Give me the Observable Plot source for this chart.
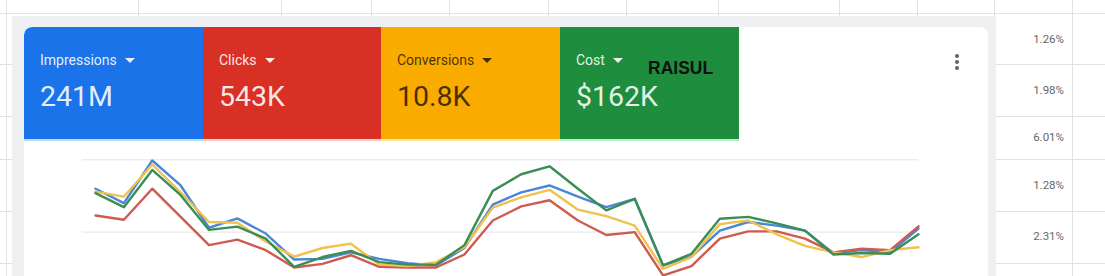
<!DOCTYPE html>
<html><head><meta charset="utf-8">
<script src="https://cdn.jsdelivr.net/npm/d3@7"></script>
<script src="https://cdn.jsdelivr.net/npm/@observablehq/plot@0.6"></script>
<style>
html,body{margin:0;padding:0;width:1105px;height:276px;overflow:hidden;background:#fff;font-family:Roboto,"Noto Sans",Arial,sans-serif;}
#root{position:relative;width:1105px;height:276px;overflow:hidden;}
.vl{position:absolute;width:1px;background:#e0e2e2;}
.hl{position:absolute;height:1px;background:#e0e2e2;}
.pct{position:absolute;right:41px;font-size:11.5px;line-height:1;color:#666;}
#frame{position:absolute;left:12px;top:16px;width:984px;height:280px;background:#eef0f1;}
#card{position:absolute;left:24px;top:27px;width:964px;height:270px;background:#fff;border-radius:8px 8px 0 0;overflow:hidden;}
.tile{position:absolute;top:0;height:112px;}
.tile .lab{position:absolute;left:16px;top:26.2px;font-size:14px;line-height:1;white-space:nowrap;}
.tile .val{position:absolute;left:16px;top:56.4px;font-size:28.5px;line-height:1;white-space:nowrap;}
.tri{display:inline-block;width:0;height:0;border-left:5px solid transparent;border-right:5px solid transparent;border-top:5px solid currentColor;vertical-align:2px;margin-left:8px;}
.tint{position:absolute;left:0;right:0;bottom:-2px;height:2px;}
#raisul{position:absolute;left:88px;top:32.8px;font-family:"Liberation Sans",Arial,sans-serif;font-weight:bold;font-size:17.5px;line-height:1;color:#111;}
.dot{position:absolute;left:931px;width:4px;height:4px;border-radius:50%;background:#5f6368;}
#chart{position:absolute;left:0;top:113px;}
</style></head>
<body><div id="root"></div>
<script>
// ---- data ----
const metrics = ["Impressions", "Clicks", "Conversions", "Cost"];
const totals = ["241M", "543K", "10.8K", "$162K"];
const days = d3.range(1, 31);
const impressions = [1.60,1.40,1.99,1.645,1.06,1.19,0.98,0.62,0.63,0.72,0.63,0.57,0.54,0.78,1.38,1.55,1.645,1.49,1.345,1.46,0.54,0.66,1.02,1.14,1.09,1.02,0.71,0.75,0.72,1.05];
const clicks = [1.23,1.17,1.60,1.21,0.82,0.895,0.75,0.51,0.56,0.68,0.52,0.51,0.51,0.69,1.16,1.355,1.44,1.16,0.96,1.00,0.40,0.53,0.91,1.01,1.01,0.91,0.72,0.77,0.75,1.08];
const conversions = [1.56,1.49,1.935,1.55,1.14,1.13,0.87,0.66,0.78,0.84,0.55,0.53,0.585,0.79,1.34,1.48,1.585,1.31,1.22,1.09,0.49,0.655,1.11,1.16,0.97,0.81,0.72,0.655,0.75,0.79];
const cost = [1.54,1.345,1.86,1.51,1.03,1.075,0.91,0.52,0.655,0.74,0.585,0.55,0.55,0.82,1.57,1.80,1.91,1.60,1.30,1.46,0.54,0.70,1.185,1.21,1.12,1.02,0.69,0.71,0.70,0.97];
const gridValues = [1, 2];
const sheetValues = ["1.26%", "1.98%", "6.01%", "1.28%", "2.31%"];
const watermark = "RAISUL";

// ---- styles ----
const tileColors = ["#1a73e8", "#d93025", "#f9ab00", "#1e8e3e"];
const tintColors = ["#b6dcff", "#ffcfc7", "#ffe7a6", "#b9efc9"];
const textColors = ["rgba(255,255,255,0.9)", "rgba(255,255,255,0.9)", "rgba(0,0,0,0.72)", "rgba(255,255,255,0.9)"];
const lineColors = ["#4c86d6", "#cf5a4f", "#f0c24c", "#3a8d55"];

const root = document.getElementById("root");
function el(tag, cls, css, parent) {
  const e = document.createElement(tag);
  if (cls) e.className = cls;
  Object.assign(e.style, css || {});
  (parent || root).appendChild(e);
  return e;
}
// spreadsheet background
const vx = [6, 138, 281, 371, 449, 548, 626, 718, 839, 917, 994, 1072];
vx.forEach(x => el("div", "vl", {left: x + "px", top: "0px", height: "276px"}));
el("div", "hl", {left: "0px", width: "1105px", top: "13px"});
const hy = [64, 116, 159, 211, 263];
hy.forEach(y => {
  el("div", "hl", {left: "996px", width: "109px", top: y + "px"});
  el("div", "hl", {left: "0px", width: "12px", top: y + "px"});
});
const pctBase = [43.3, 94.3, 141.7, 189.3, 240.7];
sheetValues.forEach((t, i) => {
  const p = el("div", "pct", {top: (pctBase[i] - 0.8415 * 11.5) + "px"});
  p.textContent = t;
});
const frame = el("div", null, {});
frame.id = "frame";
const card = el("div", null, {});
card.id = "card";

const tileX = [0, 179, 357, 536];
const tileW = [179, 178, 179, 179];
metrics.forEach((m, i) => {
  const t = el("div", "tile", {left: tileX[i] + "px", width: tileW[i] + "px", background: tileColors[i], color: textColors[i]}, card);
  if (i === 0) t.style.borderTopLeftRadius = "8px";
  el("div", "tint", {background: tintColors[i]}, t);
  const lab = el("div", "lab", {}, t);
  lab.appendChild(document.createTextNode(m));
  el("span", "tri", {}, lab);
  const v = el("div", "val", {}, t);
  v.textContent = totals[i];
  if (i === 3) { const r = el("div", null, {}, t); r.id = "raisul"; r.textContent = watermark; }
});
[27, 33, 39].forEach(y => el("div", "dot", {top: y + "px"}, card));

// chart
const seriesValues = [impressions, clicks, conversions, cost];
const data = metrics.flatMap((m, k) => days.map((d, i) => ({metric: m, day: d, value: seriesValues[k][i]})));
const chart = Plot.plot({
  width: 964, height: 184,
  marginLeft: 58, marginRight: 70, marginTop: 19.3, marginBottom: 20.1,
  style: {background: "transparent", overflow: "visible"},
  x: {domain: [1, 30], insetLeft: 13, axis: null},
  y: {domain: [0, 2], axis: null},
  color: {domain: metrics, range: lineColors},
  marks: [
    Plot.ruleY(gridValues, {stroke: "#e4e4e4", strokeWidth: 1}),
    Plot.line(data, {x: "day", y: "value", z: "metric", stroke: "metric", strokeWidth: 2.4, curve: "linear"})
  ]
});
chart.id = "chart";
card.appendChild(chart);
</script>
</body></html>
